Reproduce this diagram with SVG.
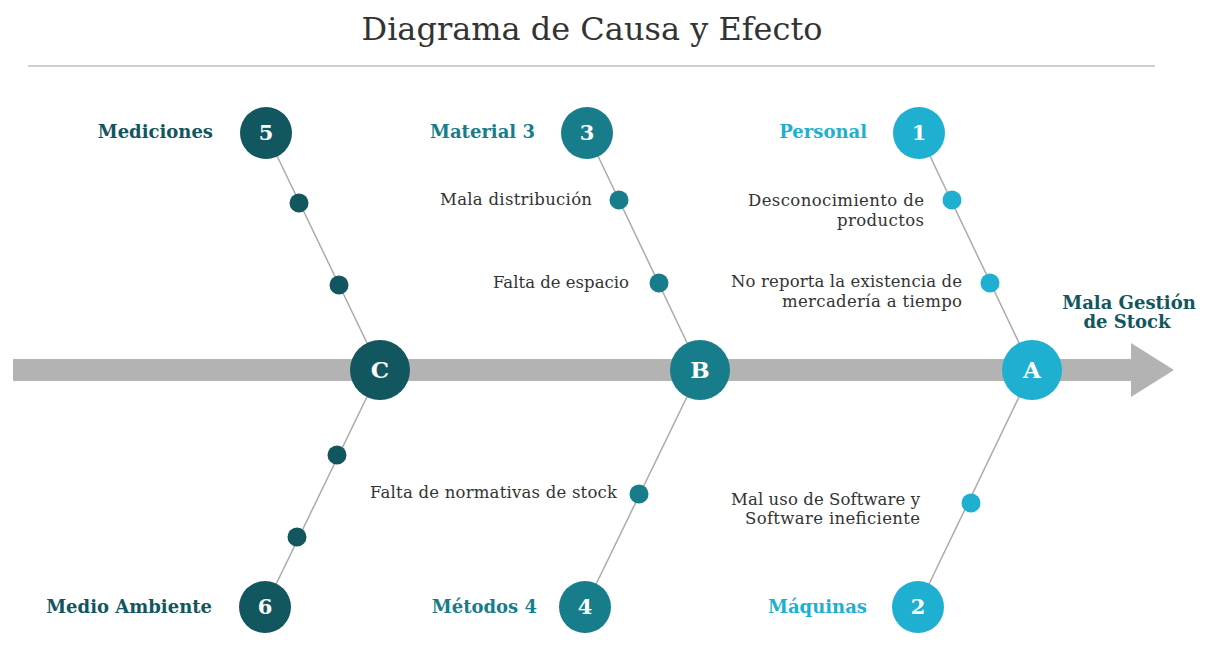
<svg xmlns="http://www.w3.org/2000/svg" width="1206" height="672" viewBox="0 0 1206 672">
<style>
.title{font-family:"DejaVu Serif","Liberation Serif",serif;font-size:32px;fill:#333}
.lbl{font-family:"DejaVu Serif","Liberation Serif",serif;font-size:18px;font-weight:bold;text-anchor:end}
.cause{font-family:"DejaVu Serif","Liberation Serif",serif;font-size:16.5px;fill:#333;text-anchor:end}
.num{font-family:"DejaVu Serif","Liberation Serif",serif;font-size:21px;font-weight:bold;fill:#fff;text-anchor:middle}
.big{font-family:"DejaVu Serif","Liberation Serif",serif;font-size:23px;font-weight:bold;fill:#fff;text-anchor:middle}
.bone{stroke:#ababab;stroke-width:1.5;fill:none}
.dk{fill:#12565f}.md{fill:#187d8b}.lt{fill:#1eafd1}
</style>
<rect width="1206" height="672" fill="#fff"/>
<text class="title" x="592" y="40" text-anchor="middle" textLength="461" lengthAdjust="spacingAndGlyphs">Diagrama de Causa y Efecto</text>
<line x1="28" y1="66" x2="1155" y2="66" stroke="#cfcfcf" stroke-width="2"/>
<g id="spine">
<rect x="13" y="359" width="1120" height="22" fill="#b3b3b3"/>
<polygon points="1131,343 1174,370 1131,397" fill="#b3b3b3"/>
</g>
<g id="connectors">
<line class="bone" x1="266" y1="133" x2="380" y2="370"/>
<line class="bone" x1="380" y1="370" x2="265" y2="607"/>
<line class="bone" x1="587" y1="133" x2="700" y2="370"/>
<line class="bone" x1="700" y1="370" x2="585" y2="607"/>
<line class="bone" x1="919" y1="133" x2="1032" y2="370"/>
<line class="bone" x1="1032" y1="370" x2="918" y2="607"/>
</g>
<g id="effect">
<text class="lbl" x="1129" y="309" style="text-anchor:middle" fill="#12565f">Mala Gestión</text>
<text class="lbl" x="1127" y="328" style="text-anchor:middle" fill="#12565f">de Stock</text>
</g>
<g id="node-C"><circle class="dk" cx="380" cy="370" r="30"/><text class="big" x="380" y="378">C</text></g>
<g id="node-B"><circle class="md" cx="700" cy="370" r="30"/><text class="big" x="700" y="378">B</text></g>
<g id="node-A"><circle class="lt" cx="1032" cy="370" r="30"/><text class="big" x="1032" y="378">A</text></g>
<g id="node-5">
<circle class="dk" cx="266" cy="133" r="26"/><text class="num" x="266" y="140">5</text>
<text class="lbl" x="213" y="138" fill="#12565f">Mediciones</text>
<circle class="dk" cx="299" cy="203" r="9.5"/>
<circle class="dk" cx="339" cy="285" r="9.5"/>
</g>
<g id="node-6">
<circle class="dk" cx="265" cy="607" r="26"/><text class="num" x="265" y="614">6</text>
<text class="lbl" x="212" y="613" fill="#12565f">Medio Ambiente</text>
<circle class="dk" cx="337" cy="455" r="9.5"/>
<circle class="dk" cx="297" cy="537" r="9.5"/>
</g>
<g id="node-3">
<circle class="md" cx="587" cy="133" r="26"/><text class="num" x="587" y="140">3</text>
<text class="lbl" x="535" y="138" fill="#187d8b">Material 3</text>
<circle class="md" cx="619" cy="200" r="9.5"/>
<text class="cause" x="592" y="205" textLength="152">Mala distribución</text>
<circle class="md" cx="659" cy="283" r="9.5"/>
<text class="cause" x="629" y="288" textLength="136">Falta de espacio</text>
</g>
<g id="node-4">
<circle class="md" cx="585" cy="607" r="26"/><text class="num" x="585" y="614">4</text>
<text class="lbl" x="537" y="613" fill="#187d8b">Métodos 4</text>
<circle class="md" cx="639" cy="494" r="9.5"/>
<text class="cause" x="617" y="498" textLength="247">Falta de normativas de stock</text>
</g>
<g id="node-1">
<circle class="lt" cx="919" cy="133" r="26"/><text class="num" x="919" y="140">1</text>
<text class="lbl" x="867" y="138" fill="#1eafd1">Personal</text>
<circle class="lt" cx="952" cy="200" r="9.5"/>
<text class="cause" x="924" y="206" textLength="176">Desconocimiento de</text>
<text class="cause" x="924" y="226" textLength="87">productos</text>
<circle class="lt" cx="990" cy="283" r="9.5"/>
<text class="cause" x="962" y="287" textLength="231">No reporta la existencia de</text>
<text class="cause" x="962" y="307" textLength="180">mercadería a tiempo</text>
</g>
<g id="node-2">
<circle class="lt" cx="918" cy="607" r="26"/><text class="num" x="918" y="614">2</text>
<text class="lbl" x="867" y="613" fill="#1eafd1">Máquinas</text>
<circle class="lt" cx="971" cy="503" r="9.5"/>
<text class="cause" x="920" y="505" textLength="189">Mal uso de Software y</text>
<text class="cause" x="920" y="524" textLength="175">Software ineficiente</text>
</g>
</svg>
